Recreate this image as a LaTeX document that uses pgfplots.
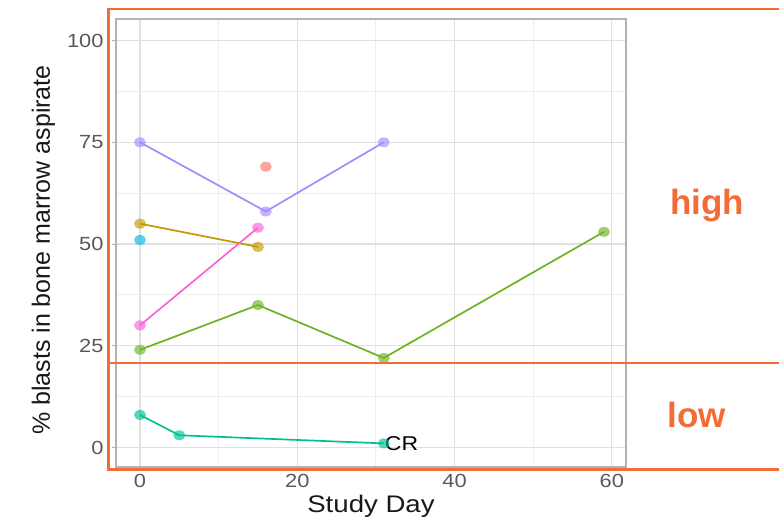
\documentclass[border=0pt]{standalone}
\usepackage{fontspec}
\setmainfont{Liberation Sans}[FakeStretch=1.15]
\newfontfamily\plainsans{Liberation Sans}
\usepackage{pgfplots}
\pgfplotsset{compat=1.18}
\definecolor{cred}{HTML}{F8766D}
\definecolor{cgold}{HTML}{C49A00}
\definecolor{cgreen}{HTML}{6CB324}
\definecolor{cteal}{HTML}{00C094}
\definecolor{cblue}{HTML}{00B6EB}
\definecolor{cpurple}{HTML}{A58AFF}
\definecolor{cpink}{HTML}{FB61D7}
\definecolor{orangeov}{RGB}{243,108,55}
\begin{document}
\begin{tikzpicture}[x=1pt,y=1pt]
\path[use as bounding box] (0,0) rectangle (779,521);
\begin{axis}[
  at={(116pt,54pt)}, anchor=south west,
  scale only axis, width=510pt, height=448pt,
  xmin=-3.05, xmax=61.8, ymin=-4.8, ymax=105.3,
  xtick={0,20,40,60}, minor xtick={10,30,50},
  ytick={0,25,50,75,100}, minor ytick={12.5,37.5,62.5,87.5},
  grid=both,
  major grid style={black!12, line width=1.2pt},
  minor grid style={black!7, line width=0.9pt},
  axis line style={black!30, line width=2pt},
  tick style={black!30, line width=1pt},
  major tick length=4pt, minor tick length=0pt,
  tick align=outside,
  xtick pos=bottom, ytick pos=left,
  /pgf/number format/assume math mode=true,
  ticklabel style={font=\fontsize{19}{19}\selectfont, text=black!65},
  yticklabel style={xshift=-5pt},
  xlabel={Study Day}, ylabel={\% blasts in bone marrow aspirate},
  xlabel style={font=\fontsize{24}{24}\selectfont, text=black!90},
  ylabel style={font=\plainsans\fontsize{25}{25}\selectfont, text=black!90, yshift=5pt, xshift=-7pt},
  every axis plot/.append style={line width=1.7pt, mark=*, mark size=5pt,
    mark options={xscale=1.2, fill opacity=0.65, draw opacity=0}},
  clip=false,
]
\addplot[cpurple] coordinates {(0,75) (16,58) (31,75)};
\addplot[cred, only marks] coordinates {(16,69)};
\addplot[cgold] coordinates {(0,55) (15,49.3)};
\addplot[cpink] coordinates {(0,30) (15,54)};
\addplot[cblue, only marks] coordinates {(0,51)};
\addplot[cgreen] coordinates {(0,24) (15,35) (31,22) (59,53)};
\addplot[cteal] coordinates {(0,8) (5,3) (31,1)};
\node[anchor=west, font=\fontsize{20}{20}\selectfont, inner sep=0pt, xshift=1pt] at (axis cs:31,1) {CR};
\end{axis}
\draw[orangeov, line width=2.5pt] (780,512) -- (108.5,512) -- (108.5,51.5) -- (780,51.5);
\draw[orangeov, line width=1.3pt] (108.5,158) -- (780,158);
\node[anchor=base, text=orangeov, font=\plainsans\bfseries\fontsize{35}{35}\selectfont, inner sep=0pt] at (707,306) {high};
\node[anchor=base, text=orangeov, font=\plainsans\bfseries\fontsize{35}{35}\selectfont, inner sep=0pt] at (697,93) {low};
\end{tikzpicture}
\end{document}
